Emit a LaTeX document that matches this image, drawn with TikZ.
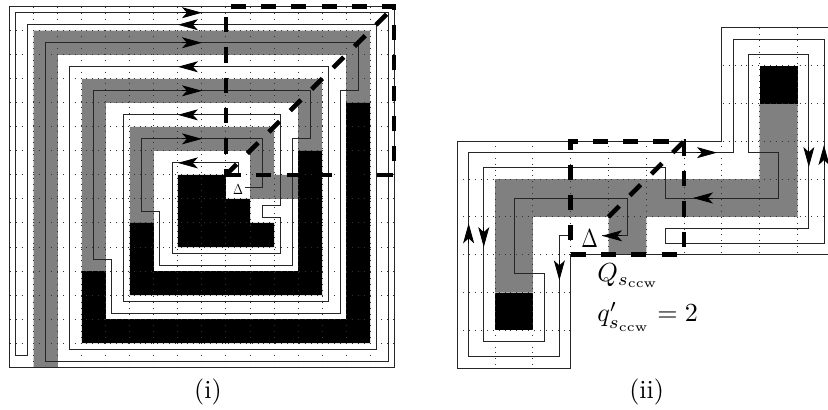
\documentclass[tikz,border=0pt]{standalone}
\usepackage{amsmath,amssymb}
\usepackage{xcolor}
\usetikzlibrary{arrows.meta, positioning}

\definecolor{bandgray}{gray}{0.5}
\tikzset{
	griddot/.style={line width=1bp, black!80, dash pattern=on 1bp off 4.9bp},
	walkline/.style={line width=0.8bp, black!85},
	outerline/.style={line width=1bp, black!85},
	walktip/.style={-{Stealth[length=20bp, width=11bp, inset=5bp]}, line width=0.8bp, black},
	bigdash/.style={line width=4.5bp, black, dash pattern=on 15.15bp off 15.15bp},
	bigtext/.style={inner sep=0pt, scale=2.62},
}

\begin{document}
\begin{tikzpicture}
	\useasboundingbox (0bp,-410bp) rectangle (828bp,0bp);

	% 1. Left spiral
	\begin{scope}[x=24.03bp, y=-24.03bp, shift={(9.7bp,-6.7bp)}]
		\fill[bandgray] (1,15) -- (1,1) -- (15,1) -- (15,4) -- (14,4) -- (14,2) -- (2,2) -- (2,15) -- cycle;
		\fill[bandgray] (3,11) -- (3,3) -- (13,3) -- (13,6) -- (12,6) -- (12,4) -- (4,4) -- (4,11) -- cycle;
		\fill[bandgray] (5,9) -- (5,5) -- (11,5) -- (11,7) -- (12,7) -- (12,8) -- (10,8) -- (10,6) -- (6,6) -- (6,9) -- cycle;
		\fill[black] (3,11) -- (4,11) -- (4,13) -- (14,13) -- (14,4) -- (15,4) -- (15,14) -- (3,14) -- cycle;
		\fill[black] (5,9) -- (6,9) -- (6,11) -- (12,11) -- (12,6) -- (13,6) -- (13,12) -- (5,12) -- cycle;
		\fill[black] (7,7) -- (9,7) -- (9,8) -- (10,8) -- (10,9) -- (11,9) -- (11,10) -- (7,10) -- cycle;

		% 2. Dotted cells
		\foreach \c in {1,...,15} {\draw[griddot] (\c,0) -- (\c,15);}
		\foreach \r in {1,...,14} {\draw[griddot] (0,\r) -- (16,\r);}

		% 3. Outline and the two walks
		\draw[outerline] (0,0) rectangle (16,15);
		\draw[walkline] (0.75,14.5) -- (0.25,14.5) -- (0.25,0.25) -- (15.75,0.25) -- (15.75,14.75) -- (1.5,14.75) -- (1.5,1.5) -- (14.5,1.5) -- (14.5,3.5) -- (13.75,3.5) -- (13.75,12.75) -- (4.25,12.75) -- (4.25,10.5) -- (3.5,10.5) -- (3.5,3.5) -- (12.5,3.5) -- (12.5,5.5) -- (11.75,5.5) -- (11.75,10.75) -- (6.25,10.75) -- (6.25,8.5) -- (5.5,8.5) -- (5.5,5.5) -- (10.5,5.5) -- (10.5,7.5) -- (9.8,7.5);
		\draw[walkline] (0.75,14.5) -- (0.75,0.75) -- (15.25,0.75) -- (15.25,14.25) -- (2.5,14.25) -- (2.5,2.5) -- (13.25,2.5) -- (13.25,12.25) -- (4.75,12.25) -- (4.75,4.5) -- (11.25,4.5) -- (11.25,8.25) -- (10.5,8.25) -- (10.5,8.75) -- (11.25,8.75) -- (11.25,10.25) -- (6.75,10.25) -- (6.75,6.5) -- (9.5,6.5) -- (9.5,7);

		% 4. Arrowheads on the top row of each turn
		\foreach \r in {0.25,1.5,3.5,5.5} {\draw[walktip] (7.17,\r) -- (8,\r);}
		\foreach \r in {0.75,2.5,4.5,6.5} {\draw[walktip] (7.83,\r) -- (7,\r);}

		% 5. Thick dashed region
		\draw[bigdash] (9,7) -- (16,7) -- (16,0) -- (9,0) -- cycle;
		\draw[bigdash] (9,7) -- (16,0);
		\node[inner sep=0pt, xscale=1.2, yscale=1.45] (deltaleft) at (9.5,7.6) {$\Delta$};
		\node[bigtext] (capleft) at (8.25,16.03) {(i)};
	\end{scope}

	% 6. Right corridor
	\begin{scope}[x=37.8bp, y=-37.8bp, shift={(457.3bp,-27.9bp)}]
		\fill[bandgray] (1,7) -- (1,4) -- (8,4) -- (8,2) -- (9,2) -- (9,5) -- (5,5) -- (5,6) -- (4,6) -- (4,5) -- (2,5) -- (2,7) -- cycle;
		\fill[black] (1,7) rectangle (2,8);
		\fill[black] (8,1) rectangle (9,2);

		\begin{scope}
			\clip (3,9) -- (0,9) -- (0,3) -- (7,3) -- (7,0) -- (10,0) -- (10,6) -- (3,6) -- cycle;
			\foreach \c in {1,...,9} {\draw[griddot] (\c,0) -- (\c,9);}
			\foreach \r in {1,...,8} {\draw[griddot] (0,\r) -- (10,\r);}
		\end{scope}

		\draw[outerline] (3,9) -- (0,9) -- (0,3) -- (7,3) -- (7,0) -- (10,0) -- (10,6) -- (3,6) -- cycle;
		\draw[walkline] (3,5.5) -- (2.7,5.5) -- (2.7,8.7) -- (0.3,8.7) -- (0.3,3.3) -- (7.3,3.3) -- (7.3,0.3) -- (9.7,0.3) -- (9.7,5.7) -- (5.5,5.7) -- (5.5,5.3) -- (9.3,5.3) -- (9.3,0.7) -- (7.7,0.7) -- (7.7,3.3) -- (8.5,3.3) -- (8.5,4.5) -- (5.5,4.5) -- (5.5,3.7) -- (0.7,3.7) -- (0.7,8.3) -- (2.3,8.3) -- (2.3,6.5) -- (1.5,6.5) -- (1.5,4.5) -- (4.5,4.5) -- (4.5,5.5) -- (3.83,5.5);

		\draw[walktip] (6.34,3.3) -- (6.87,3.3);
		\draw[walktip] (6.76,4.5) -- (6.235,4.5);
		\draw[walktip] (9.3,3.15) -- (9.3,3.68);
		\draw[walktip] (9.7,3.63) -- (9.7,3.1);
		\draw[walktip] (0.3,5.7) -- (0.3,5.17);
		\draw[walktip] (0.7,5.27) -- (0.7,5.8);
		\draw[walktip] (2.7,6.15) -- (2.7,6.68);
		\draw[walktip] (4.36,5.5) -- (3.83,5.5);

		\draw[bigdash] (3,6) -- (6,6) -- (6,3) -- (3,3) -- cycle;
		\draw[bigdash] (4,5) -- (6,3);
		\node[inner sep=0pt, xscale=2, yscale=2.6] (deltaright) at (3.5,5.57) {$\Delta$};
		\node[bigtext, anchor=base west] (qlabel) at (3.69,6.7) {$Q_{s_{\rm ccw}}$};
		\node[bigtext, anchor=base west] (qvalue) at (3.69,7.78) {$q'_{s_{\rm ccw}}=2$};
		\node[bigtext] (capright) at (5.01,9.63) {(ii)};
	\end{scope}
\end{tikzpicture}
\end{document}
